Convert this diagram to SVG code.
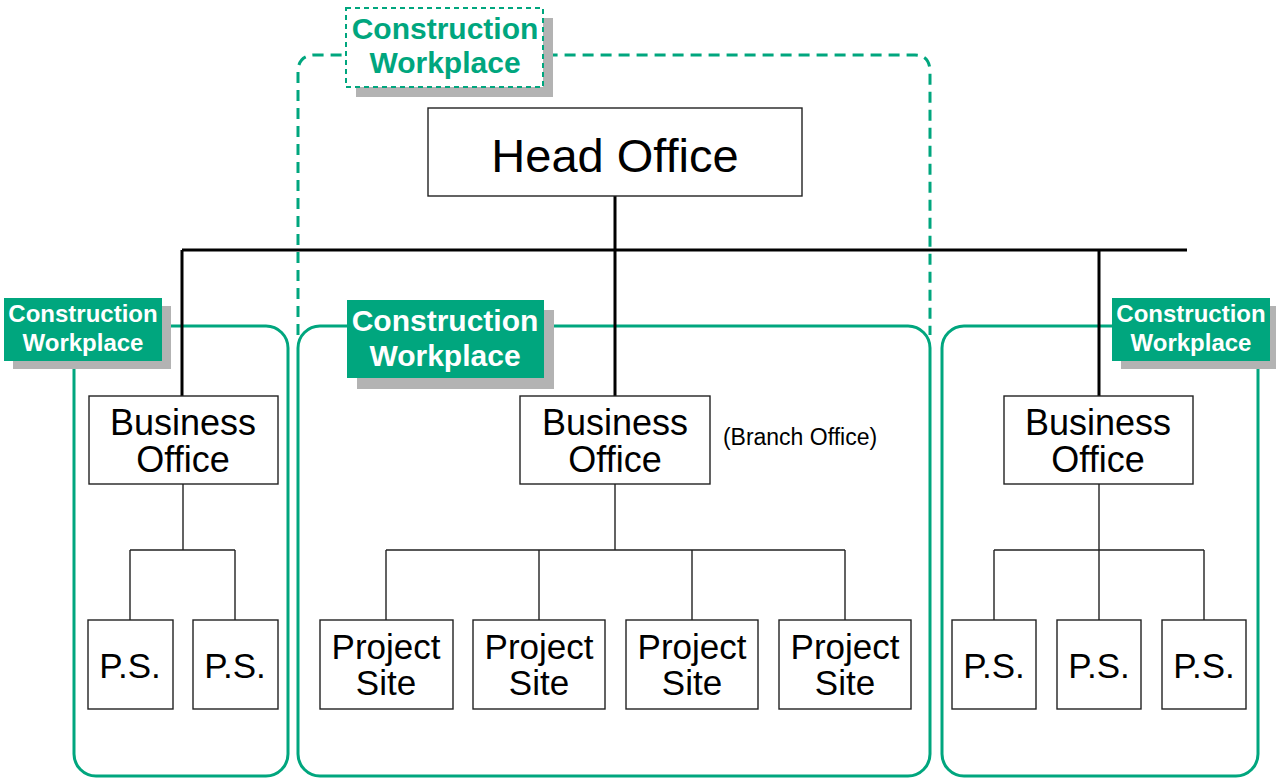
<svg xmlns="http://www.w3.org/2000/svg" width="1276" height="778" viewBox="0 0 1276 778">
<style>
.node{fill:#fff;stroke:#222;stroke-width:1.4}
.t{font-family:"Liberation Sans",Arial,sans-serif;fill:#000;text-anchor:middle}
.region{fill:none;stroke:#00a67e;stroke-width:3}
.dash{fill:none;stroke:#00a67e;stroke-width:3;stroke-dasharray:11 7}
.lbl{fill:#00a67e}
.shadow{fill:#b3b3b3}
.lt{font-family:"Liberation Sans",Arial,sans-serif;font-weight:bold;fill:#fff;text-anchor:middle}
.thick{stroke:#000;stroke-width:3;fill:none}
.thin{stroke:#222;stroke-width:1.4;fill:none}
</style>
<rect width="1276" height="778" fill="#fff"/>
<g id="regions">
<path class="dash" d="M298,335 V72 Q298,55 315,55 H915 Q930,55 930,72 V335"/>
<rect class="region" x="74" y="326" width="214" height="450" rx="22"/>
<rect class="region" x="298" y="326" width="632" height="450" rx="22"/>
<rect class="region" x="942" y="326" width="316" height="450" rx="22"/>
</g>
<g id="connectors">
<path class="thick" d="M615,196 V398 M182,250 H1187 M182,250 V397 M1099,250 V397"/>
<path class="thin" d="M183,484 V550 M130,550 H235 M130,550 V620 M235,550 V620"/>
<path class="thin" d="M615,484 V550 M386,550 H845 M386,550 V620 M539,550 V620 M692,550 V620 M845,550 V620"/>
<path class="thin" d="M1099,484 V550 M994,550 H1204 M994,550 V620 M1099,550 V620 M1204,550 V620"/>
</g>
<g id="head-office">
<rect class="node" x="428" y="108" width="374" height="88"/>
<text class="t" x="615" y="172" font-size="47">Head Office</text>
</g>
<g id="business-office-left">
<rect class="node" x="89" y="396" width="189" height="88"/>
<text class="t" x="183" y="435" font-size="36">Business</text>
<text class="t" x="183" y="472" font-size="36">Office</text>
</g>
<g id="business-office-branch">
<rect class="node" x="520" y="396" width="190" height="88"/>
<text class="t" x="615" y="435" font-size="36">Business</text>
<text class="t" x="615" y="472" font-size="36">Office</text>
<text class="t" x="800" y="445" font-size="23">(Branch Office)</text>
</g>
<g id="business-office-right">
<rect class="node" x="1004" y="396" width="189" height="88"/>
<text class="t" x="1098" y="435" font-size="36">Business</text>
<text class="t" x="1098" y="472" font-size="36">Office</text>
</g>
<g id="ps-l1"><rect class="node" x="88" y="620" width="85" height="89"/><text class="t" x="130" y="678" font-size="35">P.S.</text></g>
<g id="ps-l2"><rect class="node" x="193" y="620" width="85" height="89"/><text class="t" x="235" y="678" font-size="35">P.S.</text></g>
<g id="site-1"><rect class="node" x="320" y="620" width="133" height="89"/><text class="t" x="386" y="659" font-size="35">Project</text><text class="t" x="386" y="695" font-size="35">Site</text></g>
<g id="site-2"><rect class="node" x="473" y="620" width="132" height="89"/><text class="t" x="539" y="659" font-size="35">Project</text><text class="t" x="539" y="695" font-size="35">Site</text></g>
<g id="site-3"><rect class="node" x="626" y="620" width="132" height="89"/><text class="t" x="692" y="659" font-size="35">Project</text><text class="t" x="692" y="695" font-size="35">Site</text></g>
<g id="site-4"><rect class="node" x="779" y="620" width="132" height="89"/><text class="t" x="845" y="659" font-size="35">Project</text><text class="t" x="845" y="695" font-size="35">Site</text></g>
<g id="ps-r1"><rect class="node" x="952" y="620" width="84" height="89"/><text class="t" x="994" y="678" font-size="35">P.S.</text></g>
<g id="ps-r2"><rect class="node" x="1057" y="620" width="84" height="89"/><text class="t" x="1099" y="678" font-size="35">P.S.</text></g>
<g id="ps-r3"><rect class="node" x="1162" y="620" width="84" height="89"/><text class="t" x="1204" y="678" font-size="35">P.S.</text></g>
<g id="label-top">
<rect class="shadow" x="356" y="18" width="197" height="79"/>
<rect x="346" y="8" width="197" height="79" fill="#fff" stroke="#00a67e" stroke-width="2" stroke-dasharray="5 4"/>
<text class="lt" x="445" y="39" font-size="30" style="fill:#00a67e">Construction</text>
<text class="lt" x="445" y="73" font-size="30" style="fill:#00a67e">Workplace</text>
</g>
<g id="label-left">
<rect class="shadow" x="13" y="306" width="158" height="63"/>
<rect class="lbl" x="4" y="298" width="158" height="63"/>
<text class="lt" x="83" y="322" font-size="24">Construction</text>
<text class="lt" x="83" y="351" font-size="24">Workplace</text>
</g>
<g id="label-middle">
<rect class="shadow" x="357" y="310" width="197" height="79"/>
<rect class="lbl" x="347" y="300" width="197" height="78"/>
<text class="lt" x="445" y="331" font-size="30">Construction</text>
<text class="lt" x="445" y="366" font-size="30">Workplace</text>
</g>
<g id="label-right">
<rect class="shadow" x="1121" y="306" width="158" height="63"/>
<rect class="lbl" x="1112" y="298" width="158" height="63"/>
<text class="lt" x="1191" y="322" font-size="24">Construction</text>
<text class="lt" x="1191" y="351" font-size="24">Workplace</text>
</g>
</svg>
